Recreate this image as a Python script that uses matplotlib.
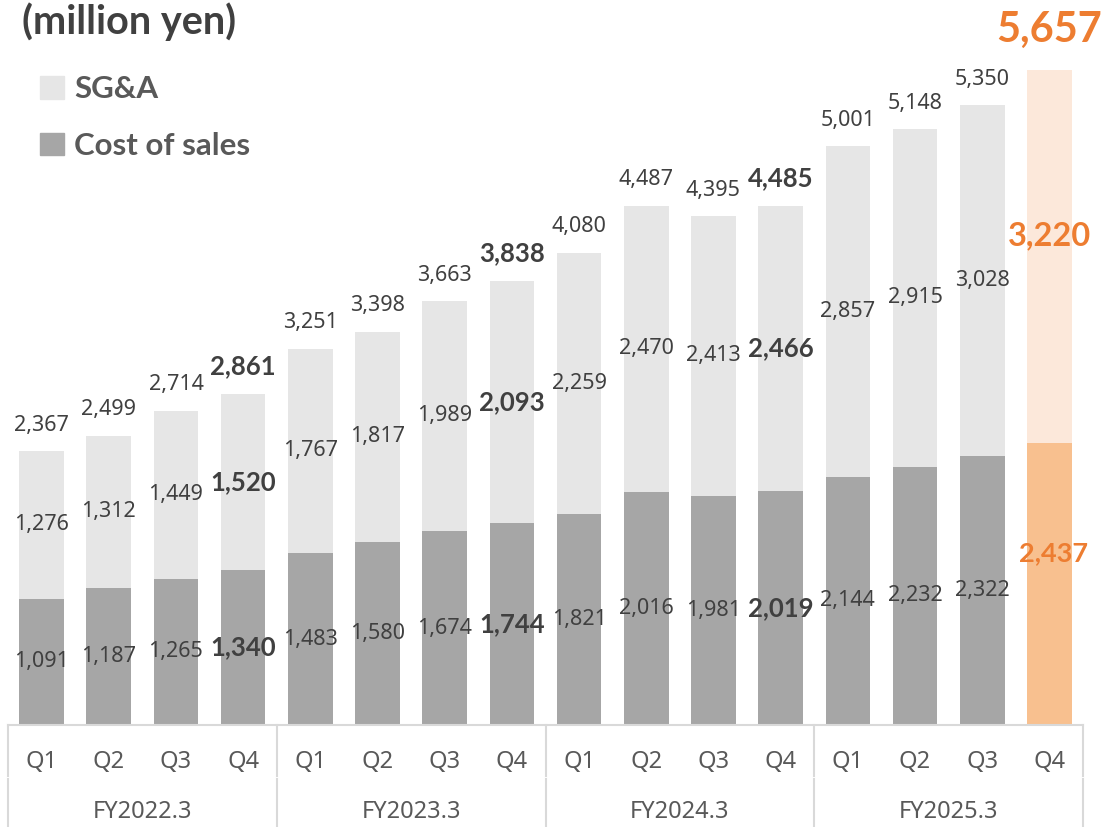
import matplotlib
matplotlib.use('Agg')
import matplotlib.pyplot as plt
from matplotlib.patches import Patch

plt.rcParams['font.family'] = ['Noto Sans', 'DejaVu Sans']
BOLD_FONT = ['Lato', 'DejaVu Sans']

quarters = ["Q1", "Q2", "Q3", "Q4"] * 4
fiscal_years = ["FY2022.3", "FY2023.3", "FY2024.3", "FY2025.3"]

cost_of_sales = [1091, 1187, 1265, 1340, 1483, 1580, 1674, 1744,
                 1821, 2016, 1981, 2019, 2144, 2232, 2322, 2437]
sga = [1276, 1312, 1449, 1520, 1767, 1817, 1989, 2093,
       2259, 2470, 2413, 2466, 2857, 2915, 3028, 3220]
totals = [2367, 2499, 2714, 2861, 3251, 3398, 3663, 3838,
          4080, 4487, 4395, 4485, 5001, 5148, 5350, 5657]

DARK = "#A6A6A6"
LIGHT = "#E6E6E6"
ORANGE = "#ED7D31"
ORANGE_LOW = "#F8C08F"
ORANGE_HIGH = "#FCE8DA"
TEXT = "#404040"
LINE = "#D9D9D9"

W, H = 1107, 827
fig = plt.figure(figsize=(W / 100, H / 100), dpi=100)
ax = fig.add_axes([8 / W, 102 / H, 1075 / W, 725 / H])

n = len(totals)
x = [i + 0.5 for i in range(n)]
bottom_colors = [DARK] * (n - 1) + [ORANGE_LOW]
top_colors = [LIGHT] * (n - 1) + [ORANGE_HIGH]

ax.bar(x, cost_of_sales, width=0.665, color=bottom_colors)
ax.bar(x, sga, width=0.665, bottom=cost_of_sales, color=top_colors)

ax.set_xlim(0, n)
ax.set_ylim(0, 6261)
ax.set_yticks([])
for s in ["top", "left", "right"]:
    ax.spines[s].set_visible(False)
ax.spines["bottom"].set_color(LINE)
ax.spines["bottom"].set_linewidth(1.5)


def style(i):
    # Q4 of each year is bold
    if i % 4 == 3:
        return dict(fontsize=18.5, fontweight="bold", family=BOLD_FONT)
    return dict(fontsize=15.5)


for i in range(n):
    xi = x[i]
    top = cost_of_sales[i] + sga[i]
    if i == n - 1:
        ax.annotate(f"{totals[i]:,}", (xi, top), xytext=(0, 15),
                    textcoords="offset points", ha="center", va="bottom",
                    fontsize=30, fontweight="bold", family=BOLD_FONT, color=ORANGE)
        ax.annotate(f"{sga[i]:,}", (xi, cost_of_sales[i] + sga[i] / 2), xytext=(0, 15),
                    textcoords="offset points", ha="center", va="center",
                    fontsize=23.5, fontweight="bold", family=BOLD_FONT, color=ORANGE)
        ax.annotate(f"{cost_of_sales[i]:,}", (xi, cost_of_sales[i] / 2), xytext=(3, 22),
                    textcoords="offset points", ha="center", va="center",
                    fontsize=19.5, fontweight="bold", family=BOLD_FONT, color=ORANGE)
        continue
    st = style(i)
    ax.annotate(f"{totals[i]:,}", (xi, top), xytext=(0, 11),
                textcoords="offset points", ha="center", va="bottom", color=TEXT, **st)
    ax.text(xi, cost_of_sales[i] + sga[i] / 2, f"{sga[i]:,}", ha="center", va="center",
            color=TEXT, **st)
    ax.text(xi, cost_of_sales[i] / 2, f"{cost_of_sales[i]:,}", ha="center", va="center",
            color=TEXT, **st)

# two-level category axis
ax.set_xticks(x)
ax.set_xticklabels(quarters, fontsize=17, color="#595959")
ax.tick_params(axis="x", length=0, pad=18)
trans = ax.get_xaxis_transform()
for g, fy in enumerate(fiscal_years):
    ax.text(g * 4 + 2, -0.12, fy, transform=trans, ha="center", va="center",
            fontsize=17, color="#595959")
for b in range(0, n + 1, 4):
    ax.plot([b, b], [0, -0.070], transform=trans, color=LINE, lw=1.5, clip_on=False)
    ax.plot([b, b], [-0.075, -0.15], transform=trans, color=LINE, lw=1.5, clip_on=False)

fig.text(22 / W, 1 - 22 / H, "(million yen)", ha="left", va="center",
         fontsize=28.5, fontweight="bold", family=BOLD_FONT, color=TEXT)

handles = [Patch(color=LIGHT, label="SG&A"), Patch(color=DARK, label="Cost of sales")]
leg = fig.legend(handles=handles, loc="upper left", bbox_to_anchor=(12 / W, 1 - 47 / H),
                 frameon=False, handlelength=0.75, handleheight=0.75,
                 handletextpad=0.35, labelspacing=0.92,
                 prop=dict(family=BOLD_FONT, weight="bold", size=22.5))
for t in leg.get_texts():
    t.set_color("#595959")

fig.savefig("out.png", dpi=100)
